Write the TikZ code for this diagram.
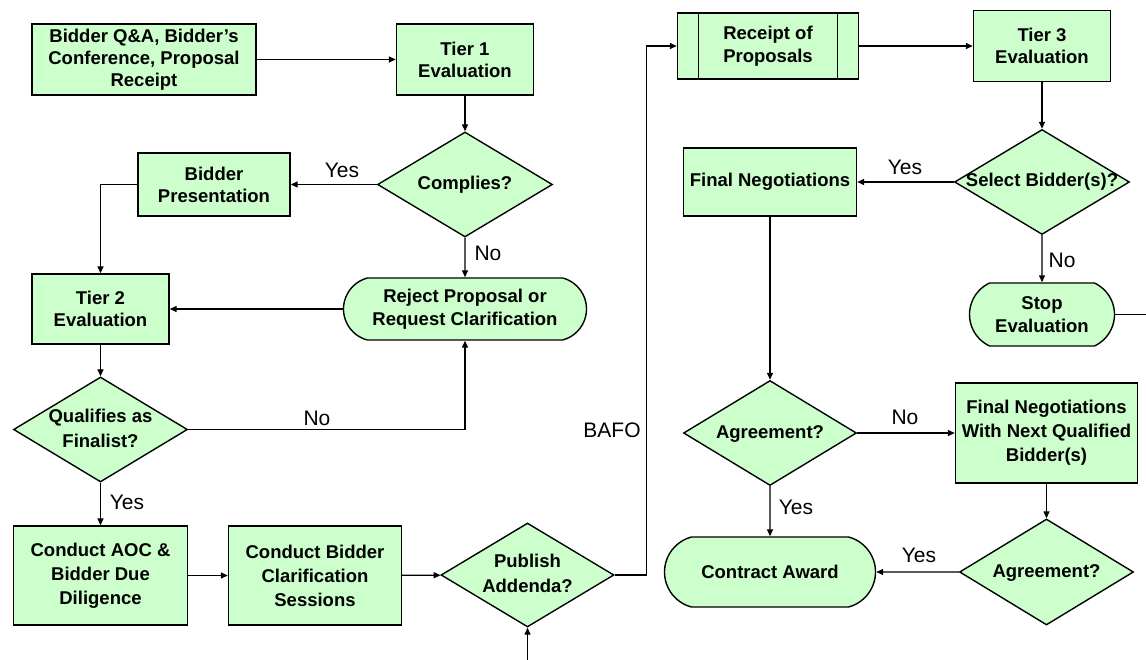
\documentclass[tikz,border=0pt]{standalone}
\usepackage{fontspec}
\setmainfont{Liberation Sans}
\usetikzlibrary{shapes.geometric,shapes.misc,arrows.meta}
\definecolor{boxgreen}{HTML}{CCFFCC}
\tikzset{
  base/.style={draw=black, line width=1.4pt, fill=boxgreen, inner sep=0pt, align=center,
    font=\fontsize{18.5}{22}\selectfont\bfseries},
  procbox/.style={base, rectangle},
  tallbox/.style={base, rectangle, font=\fontsize{18.5}{24}\selectfont\bfseries},
  decbox/.style={base, diamond, font=\fontsize{18.5}{25}\selectfont\bfseries},
  termbox/.style={base, rounded rectangle, rounded rectangle arc length=150,
    font=\fontsize{18.5}{23}\selectfont\bfseries},
  lbl/.style={font=\fontsize{21}{24}\selectfont, inner sep=0pt},
  arr/.style={line width=1.4pt, -{Triangle[length=7pt,width=6pt]}},
  plain/.style={line width=1.4pt},
}
\newcommand{\dtext}[1]{\makebox[0pt]{\begin{tabular}{@{}c@{}}#1\end{tabular}}}
\begin{document}
\begin{tikzpicture}[x=1pt,y=-1pt]
    \useasboundingbox (0,0) rectangle (1146,660);
    % left part
    \node[procbox, minimum width=224pt, minimum height=71pt] (bqa) at (144,59.5) {Bidder Q\&A, Bidder's\\Conference, Proposal\\Receipt};
    \node[procbox, minimum width=137pt, minimum height=71pt] (tier1) at (465,59.5) {Tier 1\\Evaluation};
    \node[decbox, minimum width=175pt, minimum height=105pt] (comp) at (465,184.5) {\dtext{Complies?}};
    \node[procbox, minimum width=152pt, minimum height=63pt] (bpres) at (214,184.5) {Bidder\\Presentation};
    \node[termbox, minimum width=243pt, minimum height=62pt] (reject) at (465,309) {Reject Proposal or\\Request Clarification};
    \node[procbox, minimum width=137pt, minimum height=70pt] (tier2) at (100.5,309) {Tier 2\\Evaluation};
    \node[decbox, minimum width=174pt, minimum height=105pt] (qual) at (100.5,429.5) {\dtext{Qualifies as\\Finalist?}};
    \node[tallbox, minimum width=174pt, minimum height=99pt] (aoc) at (100.5,575.5) {Conduct AOC \&\\Bidder Due\\Diligence};
    \node[tallbox, minimum width=173pt, minimum height=99pt] (cbc) at (315,575.5) {Conduct Bidder\\Clarification\\Sessions};
    \node[decbox, minimum width=173pt, minimum height=104pt] (pub) at (527.5,575) {\dtext{Publish\\Addenda?}};
    \coordinate (pubin) at (527.5,660);
    % right part
    \node[procbox, minimum width=181pt, minimum height=66pt, font=\fontsize{18.5}{23}\selectfont\bfseries] (rcpt) at (768,46) {Receipt of\\Proposals};
    \draw[plain] ([xshift=21.6pt]rcpt.north west) -- ([xshift=21.6pt]rcpt.south west);
    \draw[plain] ([xshift=-21.6pt]rcpt.north east) -- ([xshift=-21.6pt]rcpt.south east);
    \node[procbox, minimum width=137pt, minimum height=71pt] (tier3) at (1042,46) {Tier 3\\Evaluation};
    \node[decbox, minimum width=175pt, minimum height=105pt] (sel) at (1042,182) {\dtext{Select Bidder(s)?}};
    \node[procbox, minimum width=173pt, minimum height=68pt] (fneg) at (770,182) {Final Negotiations};
    \node[termbox, minimum width=145pt, minimum height=63pt, rounded rectangle arc length=130] (stop) at (1042,314.5) {Stop\\Evaluation};
    \coordinate (stopout) at (1146,314.5);
    \node[decbox, minimum width=173pt, minimum height=105pt] (agr1) at (770,433) {\dtext{Agreement?}};
    \node[tallbox, minimum width=182pt, minimum height=100pt] (fnext) at (1046.5,433) {Final Negotiations\\With Next Qualified\\Bidder(s)};
    \node[decbox, minimum width=174pt, minimum height=106pt] (agr2) at (1046.5,572) {\dtext{Agreement?}};
    \node[termbox, minimum width=211pt, minimum height=70pt] (award) at (770,572) {Contract Award};
    % labels
    \node[lbl] (yes1) at (342,170) {Yes};
    \node[lbl] (no1) at (488,253) {No};
    \node[lbl] (no2) at (317,418) {No};
    \node[lbl] (yes2) at (127,502) {Yes};
    \node[lbl] (bafo) at (612,430) {BAFO};
    \node[lbl] (yes3) at (905,167) {Yes};
    \node[lbl] (no3) at (1062,260) {No};
    \node[lbl] (no4) at (905,417) {No};
    \node[lbl] (yes4) at (796,507) {Yes};
    \node[lbl] (yes5) at (919,555) {Yes};
    % connectors
    \draw[arr] (bqa) -- (tier1);
    \draw[arr] (tier1) -- (comp);
    \draw[arr] (comp) -- (bpres);
    \draw[arr] (comp) -- (reject);
    \draw[arr] (bpres.west) -| (tier2.north);
    \draw[arr] (reject) -- (tier2);
    \draw[arr] (tier2) -- (qual);
    \draw[arr] (qual.east) -| (reject.south);
    \draw[arr] (qual) -- (aoc);
    \draw[arr] (aoc) -- (cbc);
    \draw[arr] (cbc) -- (pub);
    \draw[arr] (pubin) -- (pub.south);
    \draw[arr] (pub.east) -- ++(32,0) |- (rcpt.west);
    \draw[arr] (rcpt) -- (tier3);
    \draw[arr] (tier3) -- (sel);
    \draw[arr] (sel) -- (fneg);
    \draw[arr] (sel) -- (stop);
    \draw[plain] (stop.east) -- (stopout);
    \draw[arr] (fneg) -- (agr1);
    \draw[arr] (agr1) -- (fnext);
    \draw[arr] (agr1) -- (award);
    \draw[arr] (fnext) -- (agr2);
    \draw[arr] (agr2) -- (award);
\end{tikzpicture}
\end{document}
